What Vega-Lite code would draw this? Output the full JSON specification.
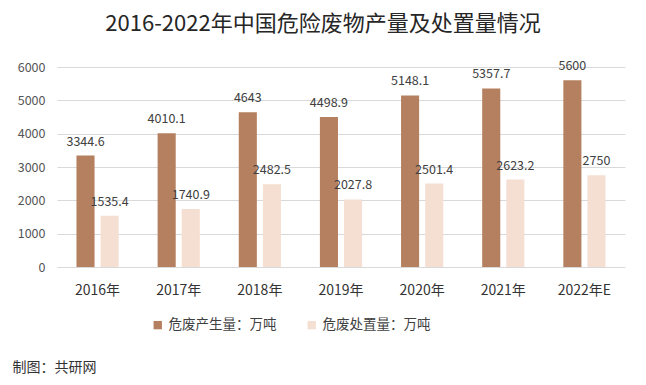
{
  "$schema": "https://vega.github.io/schema/vega-lite/v6.json",
  "autosize": "none",
  "width": 568,
  "height": 200,
  "padding": {"left": 57, "top": 67, "right": 21, "bottom": 118},
  "background": "white",
  "title": {
    "text": "2016-2022年中国危险废物产量及处置量情况",
    "font": "Noto Sans CJK SC",
    "fontSize": 22,
    "fontWeight": "normal",
    "color": "#262626",
    "anchor": "middle",
    "dx": -18,
    "offset": 24
  },
  "config": {
    "view": {"stroke": null},
    "font": "Noto Sans CJK SC"
  },
  "data": {
    "values": [
      {"year": "2016年", "type": "危废产生量：万吨", "value": 3344.6, "label": "3344.6"},
      {"year": "2016年", "type": "危废处置量：万吨", "value": 1535.4, "label": "1535.4"},
      {"year": "2017年", "type": "危废产生量：万吨", "value": 4010.1, "label": "4010.1"},
      {"year": "2017年", "type": "危废处置量：万吨", "value": 1740.9, "label": "1740.9"},
      {"year": "2018年", "type": "危废产生量：万吨", "value": 4643, "label": "4643"},
      {"year": "2018年", "type": "危废处置量：万吨", "value": 2482.5, "label": "2482.5"},
      {"year": "2019年", "type": "危废产生量：万吨", "value": 4498.9, "label": "4498.9"},
      {"year": "2019年", "type": "危废处置量：万吨", "value": 2027.8, "label": "2027.8"},
      {"year": "2020年", "type": "危废产生量：万吨", "value": 5148.1, "label": "5148.1"},
      {"year": "2020年", "type": "危废处置量：万吨", "value": 2501.4, "label": "2501.4"},
      {"year": "2021年", "type": "危废产生量：万吨", "value": 5357.7, "label": "5357.7"},
      {"year": "2021年", "type": "危废处置量：万吨", "value": 2623.2, "label": "2623.2"},
      {"year": "2022年E", "type": "危废产生量：万吨", "value": 5600, "label": "5600"},
      {"year": "2022年E", "type": "危废处置量：万吨", "value": 2750, "label": "2750"}
    ]
  },
  "encoding": {
    "x": {
      "field": "year",
      "type": "nominal",
      "sort": null,
      "scale": {"paddingInner": 0.48, "paddingOuter": 0.24},
      "axis": {
        "title": "制图：共研网",
        "titleFont": "Noto Sans CJK SC",
        "titleFontSize": 14,
        "titleFontWeight": "normal",
        "titleColor": "#333333",
        "titleAnchor": "start",
        "titleAlign": "left",
        "titleBaseline": "middle",
        "titleX": -45,
        "titleY": 100,
        "labelAngle": 0,
        "labelFontSize": 14,
        "labelColor": "#333333",
        "labelPadding": 16,
        "ticks": false,
        "domain": false,
        "grid": false
      }
    },
    "xOffset": {
      "field": "type",
      "type": "nominal",
      "sort": ["危废产生量：万吨", "危废处置量：万吨"],
      "scale": {"paddingInner": 0.25, "paddingOuter": 0}
    },
    "y": {
      "field": "value",
      "type": "quantitative",
      "scale": {"domain": [0, 6000], "nice": false},
      "axis": {
        "title": null,
        "values": [0, 1000, 2000, 3000, 4000, 5000, 6000],
        "format": "d",
        "labelFontSize": 12.5,
        "labelColor": "#555555",
        "labelPadding": 12,
        "ticks": false,
        "domain": false,
        "gridColor": "#d9d9d9",
        "gridWidth": 1
      }
    }
  },
  "layer": [
    {
      "mark": {"type": "bar"},
      "encoding": {
        "color": {
          "field": "type",
          "type": "nominal",
          "sort": ["危废产生量：万吨", "危废处置量：万吨"],
          "scale": {"range": ["#B5805F", "#F5DFD2"]},
          "legend": {
            "title": null,
            "orient": "none",
            "direction": "horizontal",
            "legendX": 94,
            "legendY": 251,
            "symbolType": "square",
            "symbolSize": 70,
            "symbolStrokeWidth": 0,
            "labelFontSize": 13.5,
            "labelColor": "#404040",
            "labelFont": "Noto Sans CJK SC",
            "columnPadding": 28,
            "labelOffset": 4
          }
        }
      }
    },
    {
      "mark": {"type": "text", "baseline": "middle", "dy": -14, "fontSize": 12.5, "color": "#404040"},
      "encoding": {
        "text": {"field": "label", "type": "nominal"}
      }
    }
  ]
}
